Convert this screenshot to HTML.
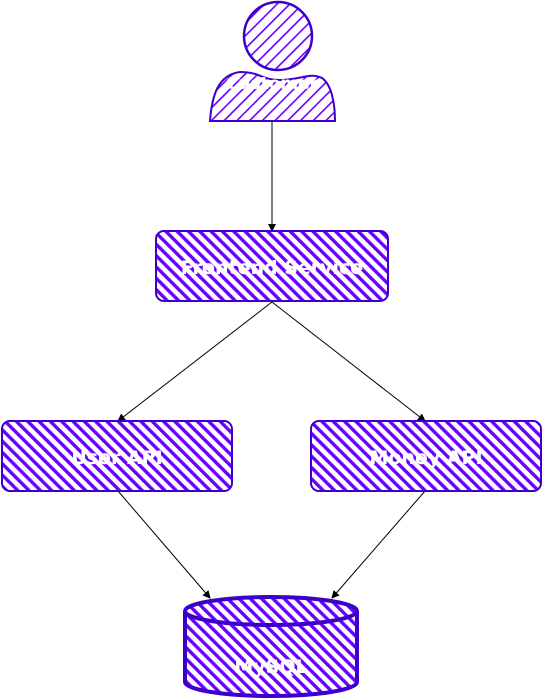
<!DOCTYPE html>
<html><head><meta charset="utf-8"><style>
html,body{margin:0;padding:0;background:#fff;}
svg{display:block;}
</style></head><body>
<svg width="542" height="698" viewBox="0 0 542 698" xmlns="http://www.w3.org/2000/svg">
<defs>
<pattern id="hb" width="8" height="8" patternUnits="userSpaceOnUse" patternTransform="rotate(-45)">
<rect width="8" height="8" fill="#fff"/>
<rect x="0" y="0" width="3.4" height="8" fill="#6a00ff"/>
</pattern>
<pattern id="hp" width="9" height="9" patternUnits="userSpaceOnUse" patternTransform="rotate(45)">
<rect width="9" height="9" fill="#fff"/>
<rect x="0" y="0" width="1.6" height="9" fill="#6a00ff"/>
</pattern>
<marker id="ar" markerWidth="8" markerHeight="8" refX="7" refY="4" orient="auto" markerUnits="userSpaceOnUse">
<path d="M0,0 L8,4 L0,8 Z" fill="#000"/>
</marker>
</defs>
<g stroke="#000" stroke-width="1" fill="none" marker-end="url(#ar)">
<line x1="272" y1="122" x2="272" y2="231"/>
<line x1="272" y1="302" x2="118" y2="421"/>
<line x1="272" y1="302" x2="425" y2="421"/>
<line x1="118" y1="491" x2="210" y2="598"/>
<line x1="425" y1="491" x2="332" y2="598"/>
</g>
<g style="font-family:'DejaVu Sans','Liberation Sans',sans-serif;font-weight:bold;fill:#fff;text-anchor:middle;font-size:19px">
<circle cx="278" cy="36" r="34" fill="url(#hp)" stroke="#3d00cc" stroke-width="2.5"/>
<path d="M210,121 C212,95 218,75 240,72 C260,72 262,80 280,80 C300,80 310,72 322,78 C332,85 335,105 335,121 Z" fill="url(#hp)" stroke="#3d00cc" stroke-width="2"/>
<text x="272" y="89" style="font-size:17px">Customer</text>
<rect x="156" y="231" width="232" height="70" rx="8" fill="url(#hb)" stroke="#3d00cc" stroke-width="2"/>
<text x="272" y="274">Frontend Service</text>
<rect x="2" y="421" width="230" height="70" rx="8" fill="url(#hb)" stroke="#3d00cc" stroke-width="2"/>
<text x="117" y="464">User API</text>
<rect x="311" y="421" width="230" height="70" rx="8" fill="url(#hb)" stroke="#3d00cc" stroke-width="2"/>
<text x="426" y="464">Money API</text>
<path d="M185,611 L185,682 A86,14 0 0 0 357,682 L357,611" fill="url(#hb)" stroke="#3d00cc" stroke-width="4"/>
<ellipse cx="271" cy="611" rx="86" ry="14" fill="url(#hb)" stroke="#3d00cc" stroke-width="4"/>
<text x="271" y="673">MySQL</text>
</g>
</svg>
</body></html>
